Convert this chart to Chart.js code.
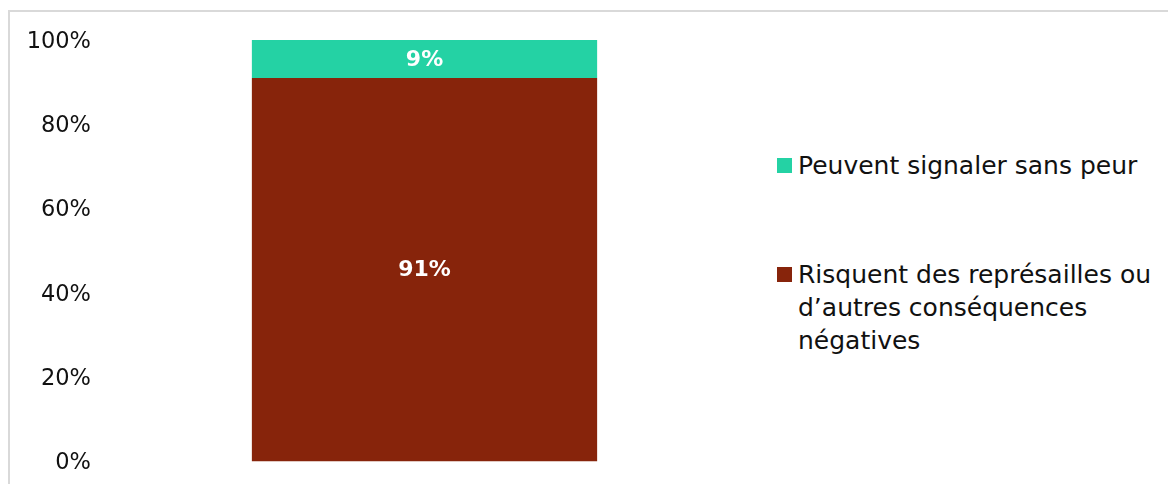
<!DOCTYPE html>
<html>
<head>
<meta charset="utf-8">
<script src="https://cdn.jsdelivr.net/npm/chart.js@4/dist/chart.umd.min.js"></script>
<style>
  body { margin: 0; background: #fff; font-family: "DejaVu Sans", sans-serif; }
  #wrap { position: relative; width: 1168px; height: 484px; overflow: hidden; }
  #frame { position: absolute; left: 8px; top: 10px; width: 1200px; height: 500px;
           border-top: 2px solid #d9d9d9; border-left: 2px solid #d9d9d9; }
  #box { position: absolute; left: 0; top: 0; width: 760px; height: 484px; }
  #legend { position: absolute; left: 777px; top: 0; font-size: 25px; color: #111; }
  .item { position: absolute; left: 0; display: flex; align-items: flex-start; white-space: nowrap; }
  .sw { width: 15px; height: 15px; margin-top: 9px; margin-right: 6px; flex: none; }
  .txt { line-height: 33px; }
</style>
</head>
<body>
<div id="wrap">
  <div id="frame"></div>
  <div id="box"><canvas id="chart"></canvas></div>
  <div id="legend"></div>
</div>
<script>
const categories = ['']
const seriesNames = [
  ['Peuvent signaler sans peur'],
  ['Risquent des représailles ou', 'd’autres conséquences', 'négatives']
]
const fearless = [9]
const retaliation = [91]
const tickLabels = ['0%', '20%', '40%', '60%', '80%', '100%']

const colors = ['#24d2a4', '#87240b']

// little plugin for the white % labels in the bar segments
const barLabels = {
  id: 'barLabels',
  afterDatasetsDraw(chart) {
    const ctx = chart.ctx
    ctx.save()
    ctx.fillStyle = '#fff'
    ctx.font = 'bold 22px "DejaVu Sans"'
    ctx.textAlign = 'center'
    ctx.textBaseline = 'middle'
    chart.data.datasets.forEach((ds, i) => {
      chart.getDatasetMeta(i).data.forEach((bar, j) => {
        const p = bar.getProps(['x', 'y', 'base'], true)
        ctx.fillText(ds.data[j] + '%', p.x, (p.y + p.base) / 2 + 1)
      })
    })
    ctx.restore()
  }
}

const chart = new Chart(document.getElementById('chart'), {
  type: 'bar',
  data: {
    labels: categories,
    datasets: [
      { label: seriesNames[1].join(' '), data: retaliation, backgroundColor: colors[1] },
      { label: seriesNames[0].join(' '), data: fearless, backgroundColor: colors[0] }
    ]
  },
  options: {
    responsive: true,
    maintainAspectRatio: false,
    animation: false,
    layout: { padding: { top: 40, bottom: 21, left: 0, right: 11 } },
    datasets: { bar: { categoryPercentage: 1, barPercentage: 0.532 } },
    scales: {
      x: { stacked: true, display: false },
      y: {
        stacked: true,
        min: 0, max: 100,
        border: { display: false },
        grid: { display: false, drawTicks: false },
        afterFit(scale) { scale.width = 100 },
        ticks: {
          stepSize: 20,
          padding: 9,
          labelOffset: 2,
          color: '#111',
          font: { family: 'DejaVu Sans', size: 22.5 },
          callback: (v, i) => tickLabels[i]
        }
      }
    },
    plugins: { legend: { display: false }, tooltip: { enabled: false } }
  },
  plugins: [barLabels]
})

// html legend, so the long label can wrap like the original
const legend = document.getElementById('legend')
const tops = [149, 258]
seriesNames.forEach((lines, i) => {
  const item = document.createElement('div')
  item.className = 'item'
  item.style.top = tops[i] + 'px'
  const sw = document.createElement('span')
  sw.className = 'sw'
  sw.style.background = colors[i]
  const txt = document.createElement('span')
  txt.className = 'txt'
  txt.innerHTML = lines.join('<br>')
  item.appendChild(sw)
  item.appendChild(txt)
  legend.appendChild(item)
})
</script>
</body>
</html>
